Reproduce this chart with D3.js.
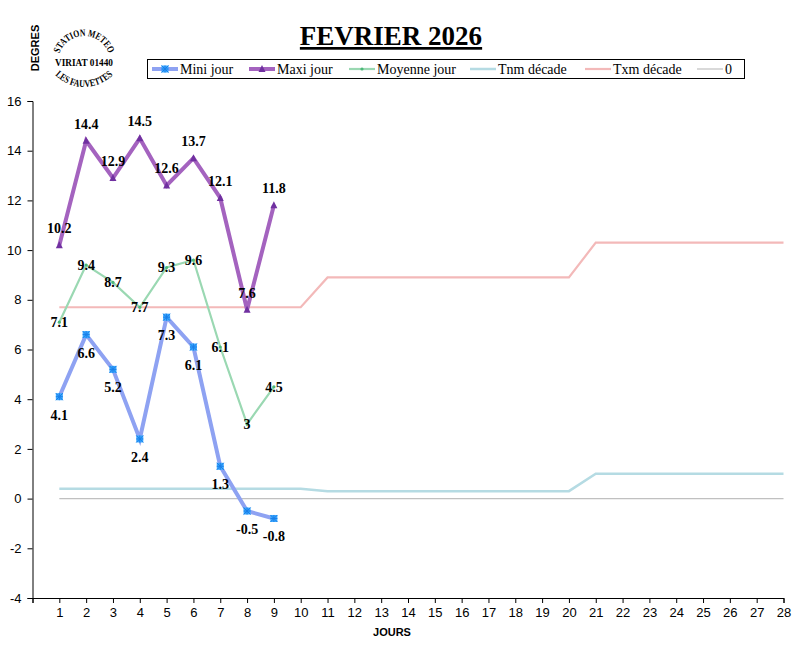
<!DOCTYPE html>
<html><head><meta charset="utf-8">
<script src="https://cdn.jsdelivr.net/npm/d3@7"></script>
<style>body{margin:0;background:#fff}svg{display:block}</style>
</head><body>
<script>
const days = d3.range(1, 29);
const obsDays = [1,2,3,4,5,6,7,8,9];
const miniJour = [4.1, 6.6, 5.2, 2.4, 7.3, 6.1, 1.3, -0.5, -0.8];
const maxiJour = [10.2, 14.4, 12.9, 14.5, 12.6, 13.7, 12.1, 7.6, 11.8];
const moyJour  = [7.1, 9.4, 8.7, 7.7, 9.3, 9.6, 6.1, 3, 4.5];
const tnmDecade = [0.4,0.4,0.4,0.4,0.4,0.4,0.4,0.4,0.4,0.4, 0.3,0.3,0.3,0.3,0.3,0.3,0.3,0.3,0.3,0.3, 1.0,1.0,1.0,1.0,1.0,1.0,1.0,1.0];
const txmDecade = [7.7,7.7,7.7,7.7,7.7,7.7,7.7,7.7,7.7,7.7, 8.9,8.9,8.9,8.9,8.9,8.9,8.9,8.9,8.9,8.9, 10.3,10.3,10.3,10.3,10.3,10.3,10.3,10.3];
const zeroLine = days.map(() => 0);
const yTicks = [-4,-2,0,2,4,6,8,10,12,14,16];
const xTicks = d3.range(0, 29);
const legendLabels = ["Mini jour","Maxi jour","Moyenne jour","Tnm décade","Txm décade","0"];

const W = 801, H = 651;
const svg = d3.select("body").append("svg").attr("width", W).attr("height", H);
const x = d3.scaleLinear().domain([0, 28]).range([32.5, 783.5]);
const y = d3.scaleLinear().domain([-4, 16]).range([598, 101]);

const sans = "'Liberation Sans', Arial, sans-serif";
const serif = "'Liberation Serif', 'Times New Roman', serif";

// Axes
const ya = svg.append("g").attr("transform", `translate(${x(0)},0)`)
  .call(d3.axisLeft(y).tickValues(yTicks).tickSize(5).tickPadding(6).tickFormat(d => String(d)));
const xa = svg.append("g").attr("transform", `translate(0,${y(-4)})`)
  .call(d3.axisBottom(x).tickValues(xTicks).tickSize(5).tickPadding(5).tickFormat(d => d === 0 ? "" : String(d)));
[ya, xa].forEach(g => {
  g.select(".domain").attr("stroke", "#000").attr("stroke-width", 1);
  g.selectAll(".tick line").attr("stroke", "#000");
  g.selectAll("text").attr("font-family", sans).attr("font-size", 13).attr("fill", "#000");
});

// Lines
const line = d3.line().x(d => x(d[0])).y(d => y(d[1]));
const series = [
  {vals: zeroLine, xs: days, color: "#c0c0c0", w: 1.2},
  {vals: tnmDecade, xs: days, color: "#b5dbe3", w: 2.5},
  {vals: txmDecade, xs: days, color: "#f3b9b9", w: 2.2},
  {vals: moyJour, xs: obsDays, color: "#9ad8b2", w: 2.2},
  {vals: miniJour, xs: obsDays, color: "#8ea2f2", w: 4},
  {vals: maxiJour, xs: obsDays, color: "#a463bf", w: 4},
];
series.forEach(s => {
  svg.append("path").datum(s.xs.map((d, i) => [d, s.vals[i]]))
    .attr("d", line).attr("fill", "none").attr("stroke", s.color)
    .attr("stroke-width", s.w).attr("stroke-linejoin", "miter");
});

// Markers
function starMarker(g, cx, cy) {
  g.append("rect").attr("x", cx - 3.5).attr("y", cy - 3.5).attr("width", 7).attr("height", 7).attr("fill", "#3aa8ff");
  g.append("path").attr("d", `M${cx-3.5},${cy-3.5}L${cx+3.5},${cy+3.5}M${cx+3.5},${cy-3.5}L${cx-3.5},${cy+3.5}M${cx},${cy-3.5}V${cy+3.5}M${cx-3.5},${cy}H${cx+3.5}`)
    .attr("stroke", "#1a7fe8").attr("stroke-width", 1);
}
function triMarker(g, cx, cy) {
  g.append("path").attr("d", `M${cx},${cy-4}L${cx+3.5},${cy+3}L${cx-3.5},${cy+3}Z`).attr("fill", "#7030a0");
}
function dotMarker(g, cx, cy) {
  g.append("circle").attr("cx", cx).attr("cy", cy).attr("r", 1.6).attr("fill", "#4cb878");
}
const mg = svg.append("g");
obsDays.forEach((d, i) => dotMarker(mg, x(d), y(moyJour[i])));
obsDays.forEach((d, i) => starMarker(mg, x(d), y(miniJour[i])));
obsDays.forEach((d, i) => triMarker(mg, x(d), y(maxiJour[i])));

// Data labels
const lg = svg.append("g").attr("font-family", serif).attr("font-weight", "bold").attr("font-size", 14).attr("text-anchor", "middle");
obsDays.forEach((d, i) => lg.append("text").attr("x", x(d)).attr("y", y(maxiJour[i]) - 12).text(String(maxiJour[i])));
obsDays.forEach((d, i) => lg.append("text").attr("x", x(d)).attr("y", y(miniJour[i]) + 23).text(String(miniJour[i])));
obsDays.forEach((d, i) => lg.append("text").attr("x", x(d)).attr("y", y(moyJour[i]) + 5).text(String(moyJour[i])));

// Title
svg.append("text").attr("x", 391).attr("y", 45).attr("text-anchor", "middle")
  .attr("font-family", serif).attr("font-weight", "bold").attr("font-size", 27)
  .attr("text-decoration", "underline").text("FEVRIER 2026");

// Axis titles
svg.append("text").attr("transform", "translate(39,48) rotate(-90)").attr("text-anchor", "middle")
  .attr("font-family", sans).attr("font-weight", "bold").attr("font-size", 11).text("DEGRES");
svg.append("text").attr("x", 392).attr("y", 636).attr("text-anchor", "middle")
  .attr("font-family", sans).attr("font-weight", "bold").attr("font-size", 11).text("JOURS");

// Logo
const defs = svg.append("defs");
function arcPath(cx, cy, r, a0, a1, sweep) {
  const p0 = [cx + r * Math.cos(a0 * Math.PI / 180), cy - r * Math.sin(a0 * Math.PI / 180)];
  const p1 = [cx + r * Math.cos(a1 * Math.PI / 180), cy - r * Math.sin(a1 * Math.PI / 180)];
  return `M${p0[0]},${p0[1]} A${r},${r} 0 0 ${sweep} ${p1[0]},${p1[1]}`;
}
defs.append("path").attr("id", "logoTop").attr("d", arcPath(84, 62, 26, 167, 13, 1));
defs.append("path").attr("id", "logoBot").attr("d", arcPath(84, 46, 41, 221, 319, 0));
const logo = svg.append("g").attr("font-family", serif).attr("font-weight", "bold").attr("font-size", 10);
logo.append("text").append("textPath").attr("href", "#logoTop").attr("startOffset", "50%").attr("text-anchor", "middle")
  .attr("textLength", 64).attr("lengthAdjust", "spacingAndGlyphs").text("STATION METEO");
logo.append("text").append("textPath").attr("href", "#logoBot").attr("startOffset", "50%").attr("text-anchor", "middle")
  .attr("textLength", 64).attr("lengthAdjust", "spacingAndGlyphs").text("LES FAUVETTES");
logo.append("text").attr("x", 84).attr("y", 65.5).attr("text-anchor", "middle").attr("font-size", 9.5)
  .attr("textLength", 58).attr("lengthAdjust", "spacingAndGlyphs").text("VIRIAT 01440");

// Legend
const leg = svg.append("g");
leg.append("rect").attr("x", 147.5).attr("y", 59.5).attr("width", 597).attr("height", 19).attr("fill", "#fff").attr("stroke", "#000");
const legSample = [152, 249, 349, 470, 585, 697];
const legColor = ["#8ea2f2", "#a463bf", "#9ad8b2", "#b5dbe3", "#f3b9b9", "#c0c0c0"];
const legW = [4, 4, 2.2, 2.5, 2.2, 1.2];
const ly = 69;
legendLabels.forEach((t, i) => {
  leg.append("line").attr("x1", legSample[i]).attr("x2", legSample[i] + 26).attr("y1", ly).attr("y2", ly)
    .attr("stroke", legColor[i]).attr("stroke-width", legW[i]);
  const cx = legSample[i] + 13;
  if (i === 0) starMarker(leg, cx, ly);
  if (i === 1) triMarker(leg, cx, ly);
  if (i === 2) dotMarker(leg, cx, ly);
  leg.append("text").attr("x", legSample[i] + 28).attr("y", ly + 5).attr("font-family", serif).attr("font-size", 14).text(t);
});
</script>
</body></html>
